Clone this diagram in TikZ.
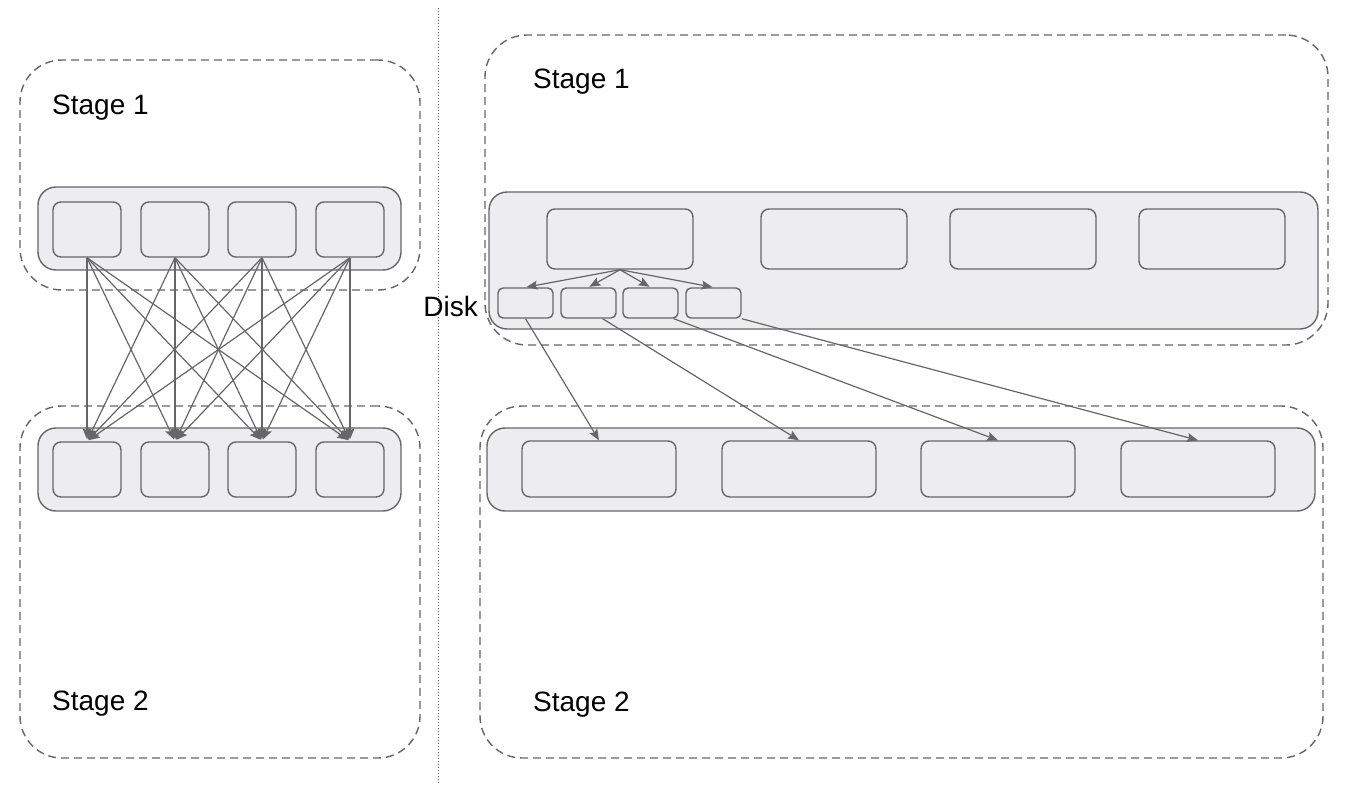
\documentclass[tikz,border=0pt]{standalone}
\usepackage{fontspec}
\setmainfont{Liberation Sans}
\usetikzlibrary{arrows.meta}
\definecolor{linec}{HTML}{666666}
\definecolor{boxfill}{HTML}{EDEDEF}
\tikzset{
  dashbox/.style={draw=linec, dash pattern=on 8pt off 5pt, line width=1.4pt, rounded corners=42pt, minimum width=#1, inner sep=0pt},
  contbox/.style={draw=linec, fill=boxfill, line width=1.4pt, rounded corners=18pt, inner sep=0pt},
  smallbox/.style={draw=linec, fill=boxfill, line width=1.4pt, rounded corners=8pt, inner sep=0pt},
  conn/.style={draw=linec, line width=1.2pt, -{Stealth[length=11pt,width=9pt,inset=2pt]}},
  lbl/.style={font=\fontsize{28}{32}\selectfont, inner sep=0pt}
}
\begin{document}
\begin{tikzpicture}[x=1pt,y=-1pt]
\useasboundingbox (0,0) rectangle (1348,784);
% divider
\coordinate (divtop) at (438,8);
\coordinate (divbot) at (438,784);
\draw[linec, line width=1pt, dash pattern=on 1pt off 2pt] (divtop) -- (divbot);

% ---------------- left side
\node[dashbox=400pt, minimum height=230pt] (L1) at (220,175) {};
\node[dashbox=400pt, minimum height=352pt] (L2) at (220,582) {};
\node[lbl, anchor=west] (L1lab) at (52,108) {Stage 1};
\node[lbl, anchor=west] (L2lab) at (52,704) {Stage 2};
\node[contbox, minimum width=363pt, minimum height=83pt] (LC1) at (219.5,228.5) {};
\node[contbox, minimum width=363pt, minimum height=83pt] (LC2) at (219.5,469.5) {};
\foreach \i/\x in {1/87,2/175,3/262,4/350}{
  \node[smallbox, minimum width=68pt, minimum height=55pt] (lt\i) at (\x,229.5) {};
  \node[smallbox, minimum width=68pt, minimum height=55pt] (lb\i) at (\x,469.5) {};
}
\foreach \i in {1,...,4}{
  \foreach \j in {1,...,4}{
    \draw[conn, shorten >=2pt] (lt\i.south) -- (lb\j.north);
  }
}

% ---------------- right side
\node[dashbox=843pt, minimum height=310pt] (R1) at (906.5,190) {};
\node[dashbox=843pt, minimum height=352pt] (R2) at (901.5,582) {};
\node[lbl, anchor=west] (R1lab) at (533,82) {Stage 1};
\node[lbl, anchor=west] (R2lab) at (533,705) {Stage 2};
\node[contbox, minimum width=829pt, minimum height=137pt] (RC1) at (903.5,260.5) {};
\node[contbox, minimum width=828pt, minimum height=83pt] (RC2) at (901,469.5) {};
\foreach \i/\x in {1/620,2/834,3/1023,4/1212}{
  \node[smallbox, minimum width=146pt, minimum height=60pt] (rt\i) at (\x,239) {};
}
\foreach \i/\x in {1/599,2/799,3/998,4/1198}{
  \node[smallbox, minimum width=154pt, minimum height=56pt] (rb\i) at (\x,469) {};
}
\foreach \i/\x in {1/525.5,2/588.5,3/650.5,4/713.5}{
  \node[smallbox, rounded corners=5pt, minimum width=55pt, minimum height=30pt] (d\i) at (\x,303) {};
}
\node[lbl, anchor=east] (disklab) at (478,306) {Disk};
\foreach \i in {1,...,4}{
  \draw[conn, shorten >=1pt] (rt1.south) -- (d\i.north);
}
\draw[conn] (d1.south) -- (rb1.north);
\draw[conn] (d2.-48) -- (rb2.north);
\draw[conn] (d3.-34) -- (rb3.north);
\draw[conn] (d4.south east) -- (rb4.north);
\end{tikzpicture}
\end{document}
